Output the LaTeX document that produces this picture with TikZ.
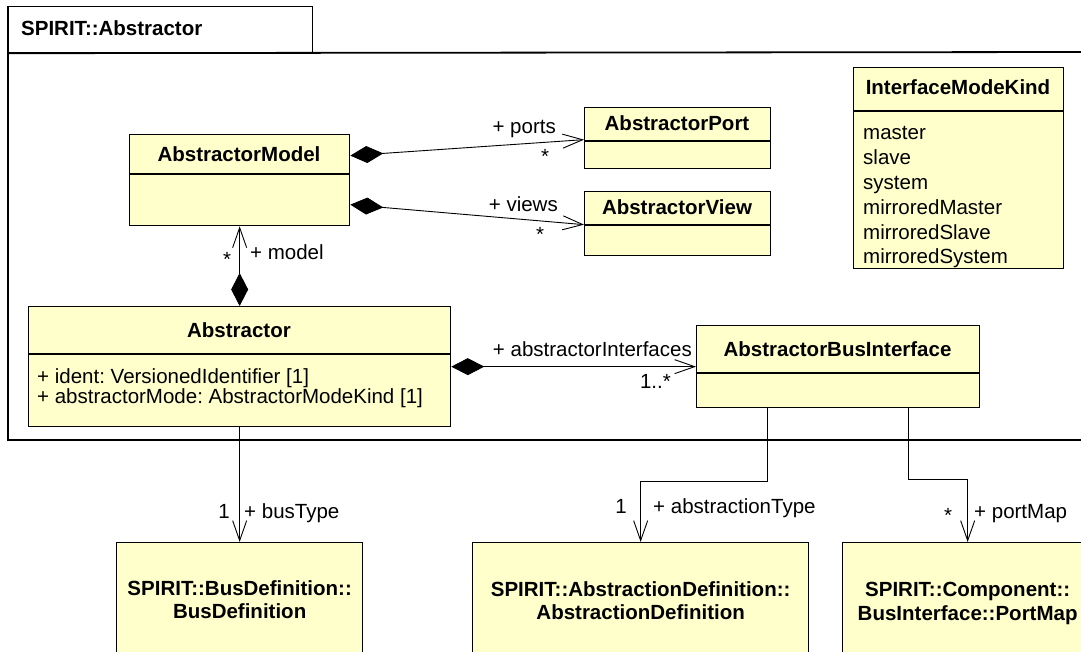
\documentclass[tikz,border=0pt]{standalone}
\usepackage{fontspec}
\setmainfont{Liberation Sans}
\frenchspacing
\usepackage{tikz}
\usetikzlibrary{arrows.meta,positioning}
\definecolor{umlyellow}{RGB}{255,255,204}

\begin{document}
\begin{tikzpicture}[x=1pt,y=-1pt,
  cls/.style={draw,line width=1.3pt,fill=umlyellow,inner sep=0pt,anchor=north west},
  ext/.style={cls,align=center,font=\fontsize{20.5pt}{23.5pt}\selectfont\bfseries},
  ttl/.style={inner sep=0pt,anchor=base,font=\fontsize{20.5pt}{24pt}\selectfont\bfseries},
  txt/.style={inner sep=0pt,anchor=base west,font=\fontsize{20.5pt}{24pt}\selectfont},
  lbl/.style={inner sep=0pt,font=\fontsize{20.5pt}{24pt}\selectfont},
  comp/.style={line width=0.9pt,
    arrows={{Diamond[length=33pt,width=17pt]}-{Straight Barb[length=20pt,width=14pt]}}},
  nav/.style={line width=0.9pt,arrows={-{Straight Barb[length=20pt,width=14pt]}}},
  frame/.style={line width=1.8pt}]
\useasboundingbox (0,0) rectangle (1081,652);
\clip (0,0) rectangle (1081,652);

% package frame
\node[draw,line width=1.2pt,minimum width=304pt,minimum height=46pt,inner sep=0pt,
      anchor=north west] (pkg) at (8,6) {};
\node[txt,font=\fontsize{20.5pt}{24pt}\selectfont\bfseries] (pkgT) at (21,36) {SPIRIT::Abstractor};
\draw[frame] (pkg.south west) -- (1090,52);
\draw[frame] (pkg.north west) -- (8,440) -- (1090,440);

% classes
\node[cls,minimum width=220pt,minimum height=91pt] (mdl) at (129,134) {};
\draw[line width=1.3pt] (mdl.west |- 0,174) -- (mdl.east |- 0,174);
\node[ttl] (mdlT) at (239,162) {AbstractorModel};

\node[cls,minimum width=186pt,minimum height=61pt] (prt) at (584,107) {};
\draw[line width=1.3pt] (prt.west |- 0,141) -- (prt.east |- 0,141);
\node[ttl] (prtT) at (677,131) {AbstractorPort};

\node[cls,minimum width=186pt,minimum height=64pt] (vw) at (584,191) {};
\draw[line width=1.3pt] (vw.west |- 0,225) -- (vw.east |- 0,225);
\node[ttl] (vwT) at (677,215) {AbstractorView};

\node[cls,minimum width=422pt,minimum height=120pt] (abs) at (28,306) {};
\draw[line width=1.3pt] (abs.west |- 0,354) -- (abs.east |- 0,354);
\node[ttl] (absT) at (239,337) {Abstractor};
\node[txt] (absA1) at (37,383) {+ ident: VersionedIdentifier [1]};
\node[txt] (absA2) at (37,403) {+ abstractorMode: AbstractorModeKind [1]};

\node[cls,minimum width=283pt,minimum height=82pt] (abi) at (696,325) {};
\draw[line width=1.3pt] (abi.west |- 0,373) -- (abi.east |- 0,373);
\node[ttl] (abiT) at (837.5,356) {AbstractorBusInterface};

\node[cls,minimum width=210pt,minimum height=201pt] (imk) at (853,67) {};
\draw[line width=1.3pt] (imk.west |- 0,111) -- (imk.east |- 0,111);
\node[ttl] (imkT) at (958,95) {InterfaceModeKind};
\node[txt] (imk1) at (863,140) {master};
\node[txt] (imk2) at (863,165) {slave};
\node[txt] (imk3) at (863,190) {system};
\node[txt] (imk4) at (863,215) {mirroredMaster};
\node[txt] (imk5) at (863,240) {mirroredSlave};
\node[txt] (imk6) at (863,264) {mirroredSystem};

% referenced classes
\node[ext,minimum width=246pt,minimum height=114pt] (busdef) at (116,542)
  {SPIRIT::BusDefinition::\\BusDefinition};
\node[ext,minimum width=336pt,minimum height=116pt] (absdef) at (472,542)
  {SPIRIT::AbstractionDefinition::\\AbstractionDefinition};
\node[ext,minimum width=250pt,minimum height=122pt] (pmap) at (842,542)
  {SPIRIT::Component::\\BusInterface::PortMap};

% connectors
\draw[comp] ([yshift=24.5pt]mdl.east) -- ([yshift=-1.5pt]prt.west);
\draw[comp] ([yshift=-24.5pt]mdl.east) -- ([yshift=-1pt]vw.west);
\draw[comp] (abs.north) -- (mdl.south);
\draw[comp] (abs.east) -- (abi.west);
\draw[nav] (abs.south) -- (busdef.north);
\draw[nav] ([xshift=-70.5pt]abi.south) -- ++(0,73) -| (absdef.north);
\draw[nav] ([xshift=70.5pt]abi.south) -- ++(0,71) -| (pmap.north);

% role names and multiplicities
\node[lbl,anchor=base east] (lPorts) at (556,134) {+ ports};
\node[lbl,anchor=base] (mPorts) at (545,164) {*};
\node[lbl,anchor=base east] (lViews) at (558,212) {+ views};
\node[lbl,anchor=base] (mViews) at (540,242) {*};
\node[lbl,anchor=base] (mModel) at (227,266) {*};
\node[lbl,anchor=base west] (lModel) at (250,260) {+ model};
\node[lbl,anchor=base east] (lIfc) at (692,356) {+ abstractorInterfaces};
\node[lbl,anchor=base east] (mIfc) at (671,388) {1..*};
\node[lbl,anchor=base] (mBus) at (224,518) {1};
\node[lbl,anchor=base west] (lBus) at (244,518) {+ busType};
\node[lbl,anchor=base] (mAbs) at (621,513) {1};
\node[lbl,anchor=base west] (lAbs) at (653,513) {+ abstractionType};
\node[lbl,anchor=base] (mMap) at (948,522) {*};
\node[lbl,anchor=base west] (lMap) at (974,518) {+ portMap};
\end{tikzpicture}
\end{document}
